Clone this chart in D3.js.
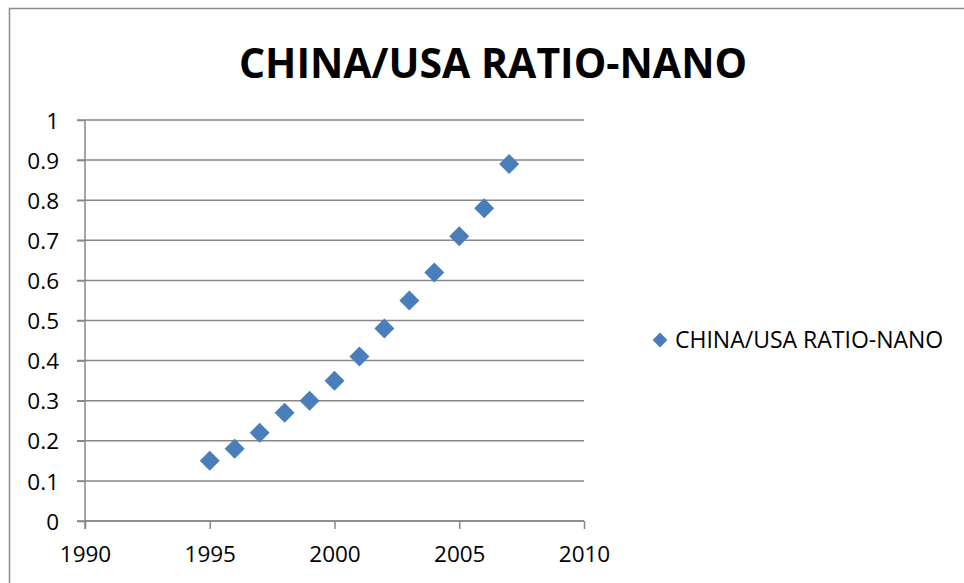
<!DOCTYPE html>
<html>
<head>
<meta charset="utf-8">
<script src="https://cdn.jsdelivr.net/npm/d3@7"></script>
<style>
  body { margin: 0; background: #fff; }
  text { font-family: "Open Sans", "Liberation Sans", sans-serif; fill: #000; }
</style>
</head>
<body>
<div id="chart"></div>
<script>
// data
var years = [1995, 1996, 1997, 1998, 1999, 2000, 2001, 2002, 2003, 2004, 2005, 2006, 2007];
var ratios = [0.15, 0.18, 0.22, 0.27, 0.30, 0.35, 0.41, 0.48, 0.55, 0.62, 0.71, 0.78, 0.89];
var xTicks = [1990, 1995, 2000, 2005, 2010];
var yTicks = [0, 0.1, 0.2, 0.3, 0.4, 0.5, 0.6, 0.7, 0.8, 0.9, 1];
var seriesName = "CHINA/USA RATIO-NANO";
var titleText = "CHINA/USA RATIO-NANO";

var W = 964, H = 583;
var blue = "#4a7ebb";
var grid = "#878787";

var svg = d3.select('#chart')
   .append('svg')
   .attr('width', W)
   .attr('height', H);

// chart frame
svg.append('rect')
   .attr('x', 9.5)
   .attr('y', 8.5)
   .attr('width', 1000)
   .attr('height', 700)
   .attr('fill', '#fff')
   .attr('stroke', '#8c8c8c')
   .attr('stroke-width', 1.5);

var x = d3.scaleLinear().domain([1990, 2010]).range([85, 584]);
var y = d3.scaleLinear().domain([0, 1]).range([521, 120]);

// horizontal gridlines
svg.append('g')
   .selectAll('line')
   .data(yTicks)
   .enter()
   .append('line')
   .attr('x1', 77)
   .attr('x2', x(2010))
   .attr('y1', function(d) { return y(d); })
   .attr('y2', function(d) { return y(d); })
   .attr('stroke', grid)
   .attr('stroke-width', 1.5);

// y axis
var yAxis = svg.append('g')
   .attr('transform', 'translate(' + x(1990) + ',0)')
   .call(d3.axisLeft(y).tickValues(yTicks).tickSize(8).tickPadding(18)
      .tickFormat(function(d) { return d3.format('')(+d.toFixed(1)); }));

// x axis
var xAxis = svg.append('g')
   .attr('transform', 'translate(0,' + y(0) + ')')
   .call(d3.axisBottom(x).tickValues(xTicks).tickSize(8).tickPadding(17)
      .tickFormat(d3.format('d')));

[yAxis, xAxis].forEach(function(ax) {
   ax.select('.domain').attr('stroke', grid).attr('stroke-width', 1.5);
   ax.selectAll('.tick line').attr('stroke', grid).attr('stroke-width', 1.5);
   ax.selectAll('.tick text')
      .attr('fill', '#000')
      .style('font-family', '"Open Sans", "Liberation Sans", sans-serif')
      .style('font-size', '22.5px');
});
yAxis.select('.domain').attr('d', 'M0,' + y(1) + 'V' + (y(0) + 8));
xAxis.select('.domain').attr('d', 'M' + x(1990) + ',0H' + x(2010));
yAxis.selectAll('.tick text').attr('dy', '0.36em');

// markers
var diamond = d3.symbol().type(d3.symbolSquare).size(200);
svg.append('g')
   .selectAll('path')
   .data(years)
   .enter()
   .append('path')
   .attr('d', diamond)
   .attr('transform', function(d, i) {
      return 'translate(' + x(d) + ',' + y(ratios[i]) + ') rotate(45)';
   })
   .attr('fill', blue);

// title
svg.append('text')
   .attr('x', 493)
   .attr('y', 78)
   .attr('text-anchor', 'middle')
   .style('font-size', '41px')
   .style('font-weight', 'bold')
   .text(titleText);

// legend
var legend = svg.append('g').attr('class', 'legend');
legend.append('path')
   .attr('d', d3.symbol().type(d3.symbolSquare).size(110))
   .attr('transform', 'translate(660,340) rotate(45)')
   .attr('fill', blue);
legend.append('text')
   .attr('x', 675)
   .attr('y', 340)
   .attr('dy', '0.36em')
   .style('font-size', '23px')
   .text(seriesName);
</script>
</body>
</html>
